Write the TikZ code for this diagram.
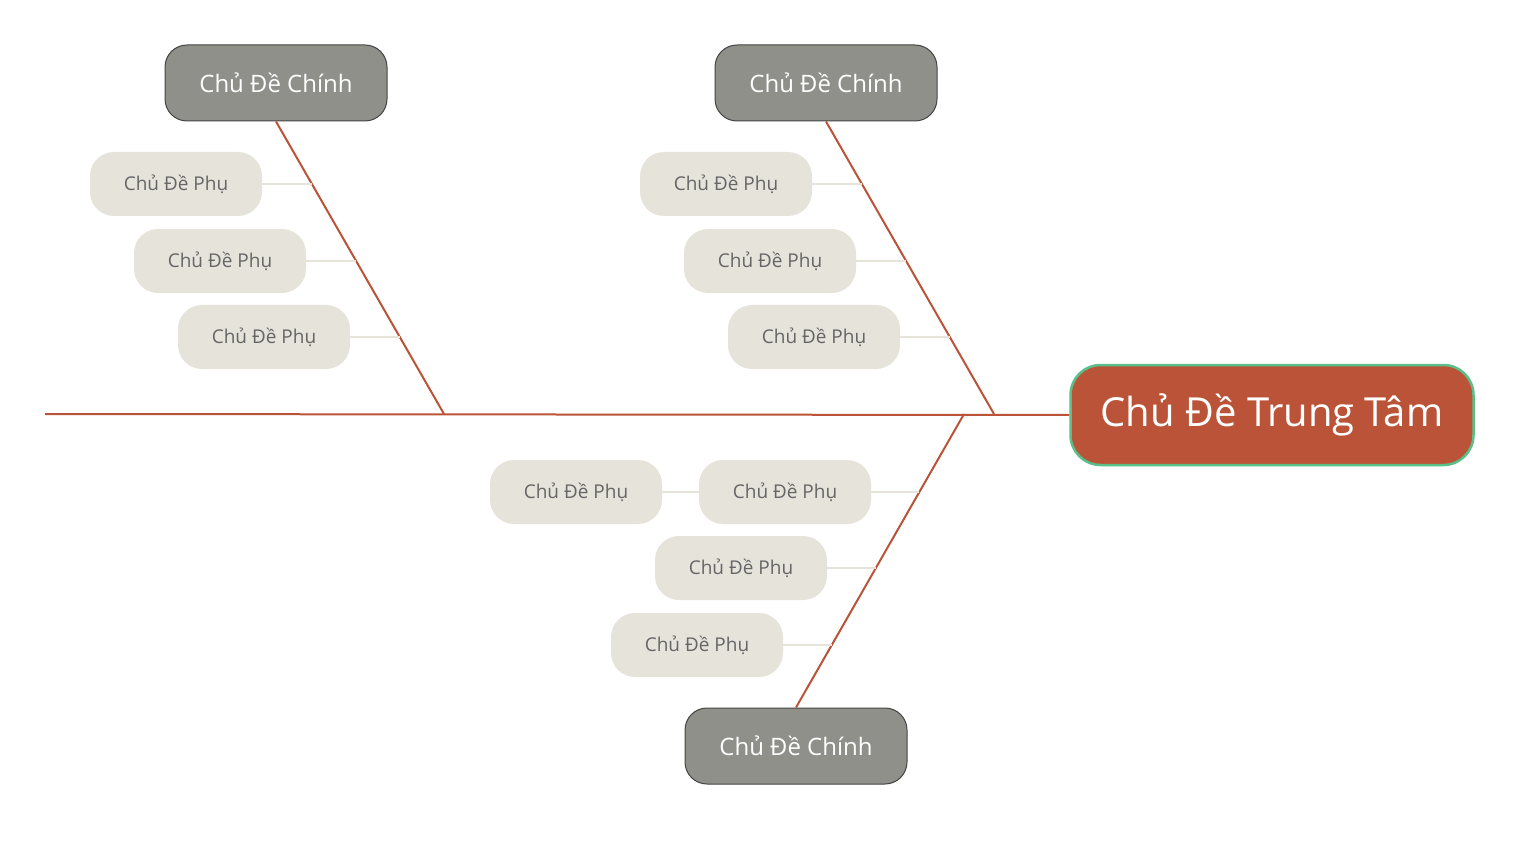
\documentclass[tikz,border=0pt]{standalone}
\usepackage{fontspec}
\setmainfont{Open Sans}
\begin{document}
\begin{tikzpicture}[x=1pt,y=-1pt,
  bone/.style={draw=boneC,line width=2pt},
  twig/.style={draw=twigC,line width=2pt},
  mainT/.style={draw=mainB,fill=mainF,rounded corners=22pt,minimum width=222pt,minimum height=76pt,text=white,font=\fontsize{24}{28}\selectfont,line width=1pt},
  subT/.style={fill=subF,rounded corners=24pt,minimum width=172pt,minimum height=64pt,text=subText,font=\fontsize{19}{22}\selectfont}]
\definecolor{boneC}{HTML}{BA5337}
\definecolor{twigC}{HTML}{E6E3DB}
\definecolor{mainF}{HTML}{8F908A}
\definecolor{mainB}{HTML}{444444}
\definecolor{subF}{HTML}{E6E3DB}
\definecolor{subText}{HTML}{666666}
\definecolor{centB}{HTML}{5BBF8A}
\useasboundingbox (0,0) rectangle (1519,845);
\coordinate (s0) at (45,414);
\node[draw=centB,fill=boneC,line width=2.5pt,rounded corners=30pt,minimum width=403pt,minimum height=100pt,text=white,font=\fontsize{40}{46}\selectfont] (c) at (1272,415) {Chủ Đề Trung Tâm};
\draw[bone] (s0) -- (c.west);
% top left
\node[mainT] (m1) at (276,83) {Chủ Đề Chính};
\coordinate (e1) at (444,414);
\draw[bone] (m1.south) -- (e1);
\node[subT] (a1) at (176,184) {Chủ Đề Phụ};
\node[subT] (a2) at (220,261) {Chủ Đề Phụ};
\node[subT] (a3) at (264,337) {Chủ Đề Phụ};
\coordinate (b1) at (312,184); \coordinate (b2) at (356,261); \coordinate (b3) at (400,337);
\draw[twig] (a1.east) -- (b1); \draw[twig] (a2.east) -- (b2); \draw[twig] (a3.east) -- (b3);
% top right
\node[mainT] (m2) at (826,83) {Chủ Đề Chính};
\coordinate (e2) at (994,414);
\draw[bone] (m2.south) -- (e2);
\node[subT] (c1) at (726,184) {Chủ Đề Phụ};
\node[subT] (c2) at (770,261) {Chủ Đề Phụ};
\node[subT] (c3) at (814,337) {Chủ Đề Phụ};
\coordinate (d1) at (862,184); \coordinate (d2) at (906,261); \coordinate (d3) at (950,337);
\draw[twig] (c1.east) -- (d1); \draw[twig] (c2.east) -- (d2); \draw[twig] (c3.east) -- (d3);
% bottom
\node[mainT] (m3) at (796,746) {Chủ Đề Chính};
\coordinate (e3) at (964,414);
\draw[bone] (m3.north) -- (e3);
\node[subT] (f1) at (785,492) {Chủ Đề Phụ};
\node[subT] (f2) at (741,568) {Chủ Đề Phụ};
\node[subT] (f3) at (697,645) {Chủ Đề Phụ};
\node[subT] (f0) at (576,492) {Chủ Đề Phụ};
\coordinate (g1) at (919,492); \coordinate (g2) at (876,568); \coordinate (g3) at (832,645);
\draw[twig] (f1.east) -- (g1); \draw[twig] (f2.east) -- (g2); \draw[twig] (f3.east) -- (g3);
\draw[twig] (f0.east) -- (f1.west);
\end{tikzpicture}
\end{document}
